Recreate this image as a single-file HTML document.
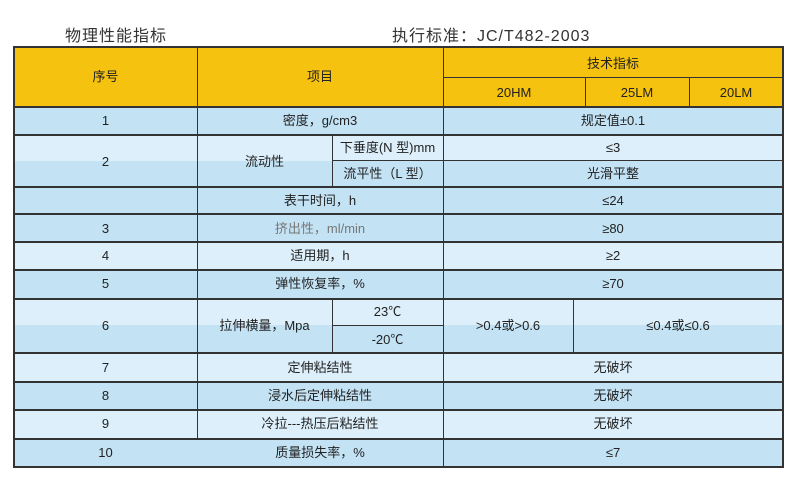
<!DOCTYPE html>
<html><head><meta charset="utf-8"><style>
body{margin:0;width:800px;height:477px;background:#fff;position:relative;overflow:hidden;font-family:"Liberation Sans","Noto Sans CJK SC",sans-serif;color:#222}
div{position:absolute;box-sizing:border-box}
.t{font-size:13px;text-align:center;white-space:nowrap;line-height:14px}
.h{background:#333}
</style></head><body>
<div style="left:65px;top:22px;font-size:16px;color:#333;letter-spacing:1px">物理性能指标</div>
<div style="left:392px;top:22px;font-size:16px;color:#333;letter-spacing:1px">执行标准：JC/T482-2003</div>

<!-- backgrounds -->
<div style="left:14px;top:47px;width:769px;height:60px;background:#F5C20F"></div>
<div style="left:14px;top:107px;width:769px;height:28px;background:#C3E3F5"></div>
<div style="left:14px;top:135px;width:769px;height:26px;background:#DCEFFA"></div>
<div style="left:14px;top:161px;width:769px;height:26px;background:#C3E3F5"></div>
<div style="left:14px;top:187px;width:769px;height:55px;background:#C3E3F5"></div>
<div style="left:14px;top:242px;width:769px;height:28px;background:#DCEFFA"></div>
<div style="left:14px;top:270px;width:769px;height:29px;background:#C3E3F5"></div>
<div style="left:14px;top:299px;width:769px;height:26px;background:#DCEFFA"></div>
<div style="left:14px;top:325px;width:769px;height:28px;background:#C3E3F5"></div>
<div style="left:14px;top:353px;width:769px;height:29px;background:#DCEFFA"></div>
<div style="left:14px;top:382px;width:769px;height:28px;background:#C3E3F5"></div>
<div style="left:14px;top:410px;width:769px;height:29px;background:#DCEFFA"></div>
<div style="left:14px;top:439px;width:769px;height:28px;background:#C3E3F5"></div>

<!-- outer border -->
<div style="left:13px;top:46px;width:771px;height:422px;border:2px solid #333"></div>
<!-- horizontal lines -->
<div class="h" style="left:443px;top:77px;width:340px;height:1px"></div>
<div class="h" style="left:14px;top:106px;width:769px;height:2px"></div>
<div class="h" style="left:14px;top:134px;width:769px;height:2px"></div>
<div class="h" style="left:332px;top:160px;width:451px;height:1px"></div>
<div class="h" style="left:14px;top:186px;width:769px;height:2px"></div>
<div class="h" style="left:14px;top:213px;width:769px;height:2px"></div>
<div class="h" style="left:14px;top:241px;width:769px;height:2px"></div>
<div class="h" style="left:14px;top:269px;width:769px;height:2px"></div>
<div class="h" style="left:14px;top:298px;width:769px;height:2px"></div>
<div class="h" style="left:332px;top:325px;width:111px;height:1px"></div>
<div class="h" style="left:14px;top:352px;width:769px;height:2px"></div>
<div class="h" style="left:14px;top:381px;width:769px;height:2px"></div>
<div class="h" style="left:14px;top:409px;width:769px;height:2px"></div>
<div class="h" style="left:14px;top:438px;width:769px;height:2px"></div>
<!-- vertical lines -->
<div class="h" style="left:197px;top:47px;width:1px;height:392px"></div>
<div class="h" style="left:443px;top:47px;width:1px;height:420px"></div>
<div class="h" style="left:585px;top:78px;width:1px;height:29px"></div>
<div class="h" style="left:689px;top:78px;width:1px;height:29px"></div>
<div class="h" style="left:332px;top:135px;width:1px;height:52px"></div>
<div class="h" style="left:332px;top:299px;width:1px;height:54px"></div>
<div class="h" style="left:573px;top:299px;width:1px;height:54px"></div>

<!-- header text -->
<div class="t" style="left:14px;top:70px;width:183px">序号</div>
<div class="t" style="left:197px;top:70px;width:246px">项目</div>
<div class="t" style="left:443px;top:57px;width:340px">技术指标</div>
<div class="t" style="left:443px;top:86px;width:142px">20HM</div>
<div class="t" style="left:585px;top:86px;width:104px">25LM</div>
<div class="t" style="left:689px;top:86px;width:94px">20LM</div>

<!-- rows -->
<div class="t" style="left:14px;top:114px;width:183px">1</div>
<div class="t" style="left:197px;top:114px;width:246px">密度，g/cm3</div>
<div class="t" style="left:443px;top:114px;width:340px">规定值±0.1</div>

<div class="t" style="left:14px;top:155px;width:183px">2</div>
<div class="t" style="left:197px;top:155px;width:135px">流动性</div>
<div class="t" style="left:332px;top:141px;width:111px">下垂度(N 型)mm</div>
<div class="t" style="left:332px;top:167px;width:111px">流平性（L 型）</div>
<div class="t" style="left:443px;top:141px;width:340px">≤3</div>
<div class="t" style="left:443px;top:167px;width:340px">光滑平整</div>

<div class="t" style="left:197px;top:194px;width:246px">表干时间，h</div>
<div class="t" style="left:443px;top:194px;width:340px">≤24</div>

<div class="t" style="left:14px;top:222px;width:183px">3</div>
<div class="t" style="left:197px;top:222px;width:246px;color:#777">挤出性，ml/min</div>
<div class="t" style="left:443px;top:222px;width:340px">≥80</div>

<div class="t" style="left:14px;top:249px;width:183px">4</div>
<div class="t" style="left:197px;top:249px;width:246px">适用期，h</div>
<div class="t" style="left:443px;top:249px;width:340px">≥2</div>

<div class="t" style="left:14px;top:277px;width:183px">5</div>
<div class="t" style="left:197px;top:277px;width:246px">弹性恢复率，%</div>
<div class="t" style="left:443px;top:277px;width:340px">≥70</div>

<div class="t" style="left:14px;top:319px;width:183px">6</div>
<div class="t" style="left:197px;top:319px;width:135px">拉伸横量，Mpa</div>
<div class="t" style="left:332px;top:305px;width:111px">23℃</div>
<div class="t" style="left:332px;top:333px;width:111px">-20℃</div>
<div class="t" style="left:443px;top:319px;width:130px">&gt;0.4或&gt;0.6</div>
<div class="t" style="left:573px;top:319px;width:210px">≤0.4或≤0.6</div>

<div class="t" style="left:14px;top:361px;width:183px">7</div>
<div class="t" style="left:197px;top:361px;width:246px">定伸粘结性</div>
<div class="t" style="left:443px;top:361px;width:340px">无破坏</div>

<div class="t" style="left:14px;top:389px;width:183px">8</div>
<div class="t" style="left:197px;top:389px;width:246px">浸水后定伸粘结性</div>
<div class="t" style="left:443px;top:389px;width:340px">无破坏</div>

<div class="t" style="left:14px;top:417px;width:183px">9</div>
<div class="t" style="left:197px;top:417px;width:246px">冷拉---热压后粘结性</div>
<div class="t" style="left:443px;top:417px;width:340px">无破坏</div>

<div class="t" style="left:14px;top:446px;width:183px">10</div>
<div class="t" style="left:197px;top:446px;width:246px">质量损失率，%</div>
<div class="t" style="left:443px;top:446px;width:340px">≤7</div>
</body></html>
